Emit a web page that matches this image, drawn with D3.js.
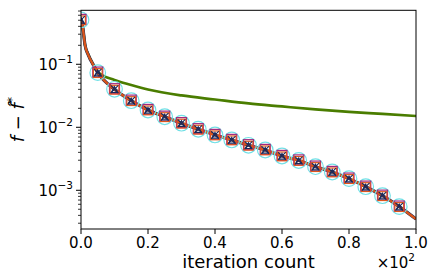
<!DOCTYPE html>
<html>
<head>
<meta charset="utf-8">
<script src="https://cdn.jsdelivr.net/npm/d3@7"></script>
<style>
  body { margin: 0; background: #fff; }
  text { font-family: "DejaVu Sans", sans-serif; fill: #000; }
</style>
</head>
<body>
<div id="chart"></div>
<script>
// lower curve (with markers)
const lowIter = [0, 0.5, 1.2, 2.2, 3.7, 5, 10, 15, 20, 25, 30, 35, 40, 45, 50, 55, 60, 65, 70, 75, 80, 85, 90, 95, 100];
const lowGap = [0.505, 0.395, 0.202, 0.14, 0.097, 0.0736, 0.0401, 0.0264, 0.0188, 0.0147, 0.0116, 0.0093, 0.00755, 0.00629,
    0.00518, 0.00436, 0.0035, 0.00297, 0.00237, 0.00195, 0.00153, 0.00114, 0.00082, 0.00055, 0.00035];

// upper (green) curve
const upIter = [0, 0.5, 1.2, 2.2, 3.7, 5, 10, 15, 20, 30, 40, 50, 60, 70, 80, 90, 100];
const upGap = [0.505, 0.395, 0.202, 0.142, 0.099, 0.0755, 0.0563, 0.0469, 0.0398, 0.032, 0.0276, 0.0239, 0.0214,
    0.0192, 0.0175, 0.0163, 0.0151];

// marker positions (every 5 iterations)
const markIter = [0, 5, 10, 15, 20, 25, 30, 35, 40, 45, 50, 55, 60, 65, 70, 75, 80, 85, 90, 95];
const markGap = [0.505, 0.0736, 0.0401, 0.0264, 0.0188, 0.0147, 0.0116, 0.0093, 0.00755, 0.00629,
    0.00518, 0.00436, 0.0035, 0.00297, 0.00237, 0.00195, 0.00153, 0.00114, 0.00082, 0.00055];

const xTicks = [0, 20, 40, 60, 80, 100];
const xTickLabels = ["0.0", "0.2", "0.4", "0.6", "0.8", "1.0"];
const yMajor = [1e-3, 1e-2, 1e-1];
const yMajorExp = ["−3", "−2", "−1"];

const W = 436, H = 280;
const pLeft = 81, pRight = 416, pTop = 10.3, pBottom = 229;

const svg = d3.select("#chart").append("svg")
    .attr("width", W).attr("height", H);

const x = d3.scaleLinear().domain([0, 100]).range([pLeft, pRight]);
const y = d3.scaleLog().domain([2.43e-4, 0.719]).range([pBottom, pTop]);

svg.append("clipPath").attr("id", "clip")
    .append("rect").attr("x", pLeft).attr("y", pTop)
    .attr("width", pRight - pLeft).attr("height", pBottom - pTop);

const plot = svg.append("g").attr("clip-path", "url(#clip)");

const line = d3.line()
    .x(d => x(d[0]))
    .y(d => y(d[1]))
    .curve(d3.curveMonotoneX);

const upData = upIter.map((k, i) => [k, upGap[i]]);
const lowData = lowIter.map((k, i) => [k, lowGap[i]]);

plot.append("path").datum(upData)
    .attr("d", line).attr("fill", "none")
    .attr("stroke", "#4a7d00").attr("stroke-width", 2.7);

plot.append("path").datum(lowData)
    .attr("d", line).attr("fill", "none")
    .attr("stroke", "#1a2a5a").attr("stroke-width", 3.2);
plot.append("path").datum(lowData)
    .attr("d", line).attr("fill", "none")
    .attr("stroke", "#d9541a").attr("stroke-width", 2.4);

// markers
const marks = plot.selectAll("g.mk")
    .data(markIter.map((k, i) => [k, markGap[i]]))
    .enter().append("g")
    .attr("class", "mk")
    .attr("transform", d => `translate(${x(d[0])},${y(d[1])})`);

marks.append("circle").attr("r", 7.8)
    .attr("fill", "none").attr("stroke", "#72e0e6").attr("stroke-width", 1.2);
marks.append("rect").attr("x", -5).attr("y", -5.6).attr("width", 10).attr("height", 10)
    .attr("fill", "none").attr("stroke", "#a0287e").attr("stroke-width", 1.2);
marks.append("rect").attr("x", -4.4).attr("y", -4).attr("width", 8.8).attr("height", 8.8)
    .attr("fill", "none").attr("stroke", "#e0561c").attr("stroke-width", 1.2);
marks.append("path").attr("d", "M-3.8,-3.8L3.8,3.8M3.8,-3.8L-3.8,3.8")
    .attr("stroke", "#1a2a5a").attr("stroke-width", 1.1);
marks.append("path").attr("d", "M0,-2.5L3.2,3.2L-3.2,3.2Z")
    .attr("fill", "none").attr("stroke", "#1a2a5a").attr("stroke-width", 1.2);

// frame
svg.append("rect").attr("x", pLeft).attr("y", pTop)
    .attr("width", pRight - pLeft).attr("height", pBottom - pTop)
    .attr("fill", "none").attr("stroke", "#000").attr("stroke-width", 1);

// x axis
const xAxis = svg.append("g");
xAxis.selectAll("line").data(xTicks).enter().append("line")
    .attr("x1", d => x(d)).attr("x2", d => x(d))
    .attr("y1", pBottom).attr("y2", pBottom + 5)
    .attr("stroke", "#000").attr("stroke-width", 1);
xAxis.selectAll("text").data(xTicks).enter().append("text")
    .attr("x", d => x(d)).attr("y", 248)
    .attr("text-anchor", "middle").attr("font-size", 15)
    .text((d, i) => xTickLabels[i]);

// y axis - minor ticks
const yMinor = [];
[1e-4, 1e-3, 1e-2, 1e-1].forEach(dec => {
    for (let m = 2; m <= 9; m++) {
        const v = m * dec;
        if (v >= y.domain()[0] && v <= y.domain()[1]) yMinor.push(v);
    }
});
svg.append("g").selectAll("line").data(yMinor).enter().append("line")
    .attr("x1", pLeft - 3).attr("x2", pLeft)
    .attr("y1", d => y(d)).attr("y2", d => y(d))
    .attr("stroke", "#000").attr("stroke-width", 0.8);
svg.append("g").selectAll("line").data(yMajor).enter().append("line")
    .attr("x1", pLeft - 5).attr("x2", pLeft)
    .attr("y1", d => y(d)).attr("y2", d => y(d))
    .attr("stroke", "#000").attr("stroke-width", 1);

const yLab = svg.append("g").selectAll("text").data(yMajor).enter().append("text")
    .attr("x", 73).attr("y", d => y(d) + 6)
    .attr("text-anchor", "end").attr("font-size", 15);
yLab.append("tspan").text("10");
yLab.append("tspan").attr("font-size", 10.5).attr("dy", -7).text((d, i) => yMajorExp[i]);

// axis labels
svg.append("text").attr("x", (pLeft + pRight) / 2).attr("y", 268)
    .attr("text-anchor", "middle").attr("font-size", 18)
    .text("iteration count");

const mult = svg.append("text").attr("x", 415).attr("y", 268)
    .attr("text-anchor", "end").attr("font-size", 15);
mult.append("tspan").text("×10");
mult.append("tspan").attr("font-size", 10.5).attr("dy", -7).text("2");

const ylabel = svg.append("text")
    .attr("transform", `translate(24,${(pTop + pBottom) / 2}) rotate(-90)`)
    .attr("text-anchor", "middle").attr("font-size", 18);
ylabel.append("tspan").attr("font-style", "italic").text("f");
ylabel.append("tspan").text(" − ");
ylabel.append("tspan").attr("font-style", "italic").text("f\u0302");
ylabel.append("tspan").attr("font-size", 12).attr("dy", -8).text("*");
</script>
</body>
</html>
